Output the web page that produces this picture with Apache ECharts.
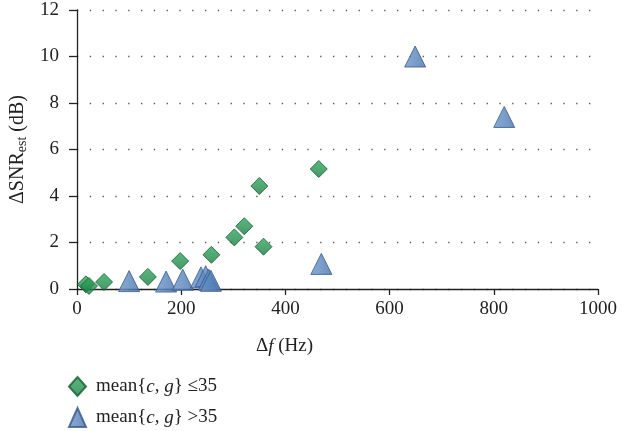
<!DOCTYPE html>
<html><head><meta charset="utf-8">
<script src="https://cdn.jsdelivr.net/npm/echarts@6/dist/echarts.min.js"></script>
<style>html,body{margin:0;padding:0;background:#fff}#c{width:622px;height:431px}</style>
</head><body><div id="c"></div>
<script>
var greenData = [[17,0.2],[23,0.13],[52,0.3],[136,0.52],[198,1.2],[258,1.47],[302,2.22],[321,2.7],[350,4.43],[358,1.82],[464,5.16]];
var blueData = [[100,0.34],[171,0.32],[203,0.4],[238,0.5],[247,0.55],[253,0.4],[257,0.35],[469,1.08],[649,10],[820,7.4]];
var xTicks = [0,200,400,600,800,1000];
var yTicks = [0,2,4,6,8,10,12];
var seriesNames = ['mean{{i|c}, {i|g}} \u226435', 'mean{{i|c}, {i|g}} >35'];

var FONT = 'Liberation Serif';
var FS = 19;
var chart = echarts.init(document.getElementById('c'));
var richText = {
  i: {fontFamily: FONT, fontStyle: 'italic', fontSize: FS, color: '#222'},
  a: {fontFamily: FONT, fontSize: 20, color: '#222'},
  s: {fontFamily: FONT, fontSize: 14, color: '#222', padding: [8,0,0,0]}
};
chart.setOption({
  animation: false,
  grid: {left: 77, right: 24, top: 10, bottom: 142},
  xAxis: {
    type: 'value', min: xTicks[0], max: xTicks[xTicks.length-1], interval: 200,
    name: '\u0394{i|f} (Hz)', nameLocation: 'middle', nameGap: 48,
    nameTextStyle: {fontFamily: FONT, fontSize: FS, color: '#222', padding: [0,106,0,0], rich: richText},
    axisLine: {lineStyle: {color: '#222', width: 1.3}},
    axisTick: {length: 6, lineStyle: {color: '#222', width: 1.3}},
    axisLabel: {fontFamily: FONT, fontSize: FS, color: '#222', margin: 11, formatter: function(v){return String(v);}},
    splitLine: {show: false}
  },
  yAxis: {
    type: 'value', min: yTicks[0], max: yTicks[yTicks.length-1], interval: 2,
    name: '{a|\u0394SNR}{s|est}{a| (dB)}', nameLocation: 'middle', nameGap: 38,
    nameTextStyle: {rich: richText},
    axisLine: {show: true, lineStyle: {color: '#222', width: 1.3}},
    axisTick: {show: true, length: 8, lineStyle: {color: '#222', width: 1.3}},
    axisLabel: {fontFamily: FONT, fontSize: FS, color: '#222', margin: 18},
    splitLine: {show: true, lineStyle: {color: '#555', width: 1.3, type: [1.3, 11.5]}}
  },
  legend: {
    orient: 'vertical', left: 68, top: 376, padding: 0, itemGap: 10, itemWidth: 17, itemHeight: 19,
    textStyle: {fontFamily: FONT, fontSize: FS, color: '#222', padding: [0,0,0,5], rich: richText},
    data: [
      {name: seriesNames[0], icon: 'diamond'},
      {name: seriesNames[1], icon: 'triangle'}
    ]
  },
  series: [
    {name: seriesNames[1], type: 'scatter', symbol: 'triangle', symbolSize: [21,21], data: blueData,
     itemStyle: {color: new echarts.graphic.LinearGradient(0,0,1,0,[{offset:0,color:'#6a95cb'},{offset:0.5,color:'#5a85bc'},{offset:1,color:'#4770a5'}]), borderColor: '#36598a', borderWidth: 1}},
    {name: seriesNames[0], type: 'scatter', symbol: 'diamond', symbolSize: [17,17], data: greenData,
     itemStyle: {color: new echarts.graphic.LinearGradient(0,0,0,1,[{offset:0,color:'#2fa65c'},{offset:0.5,color:'#259350'},{offset:1,color:'#1b7a42'}]), borderColor: '#155f31', borderWidth: 1}}
  ]
});
</script></body></html>
